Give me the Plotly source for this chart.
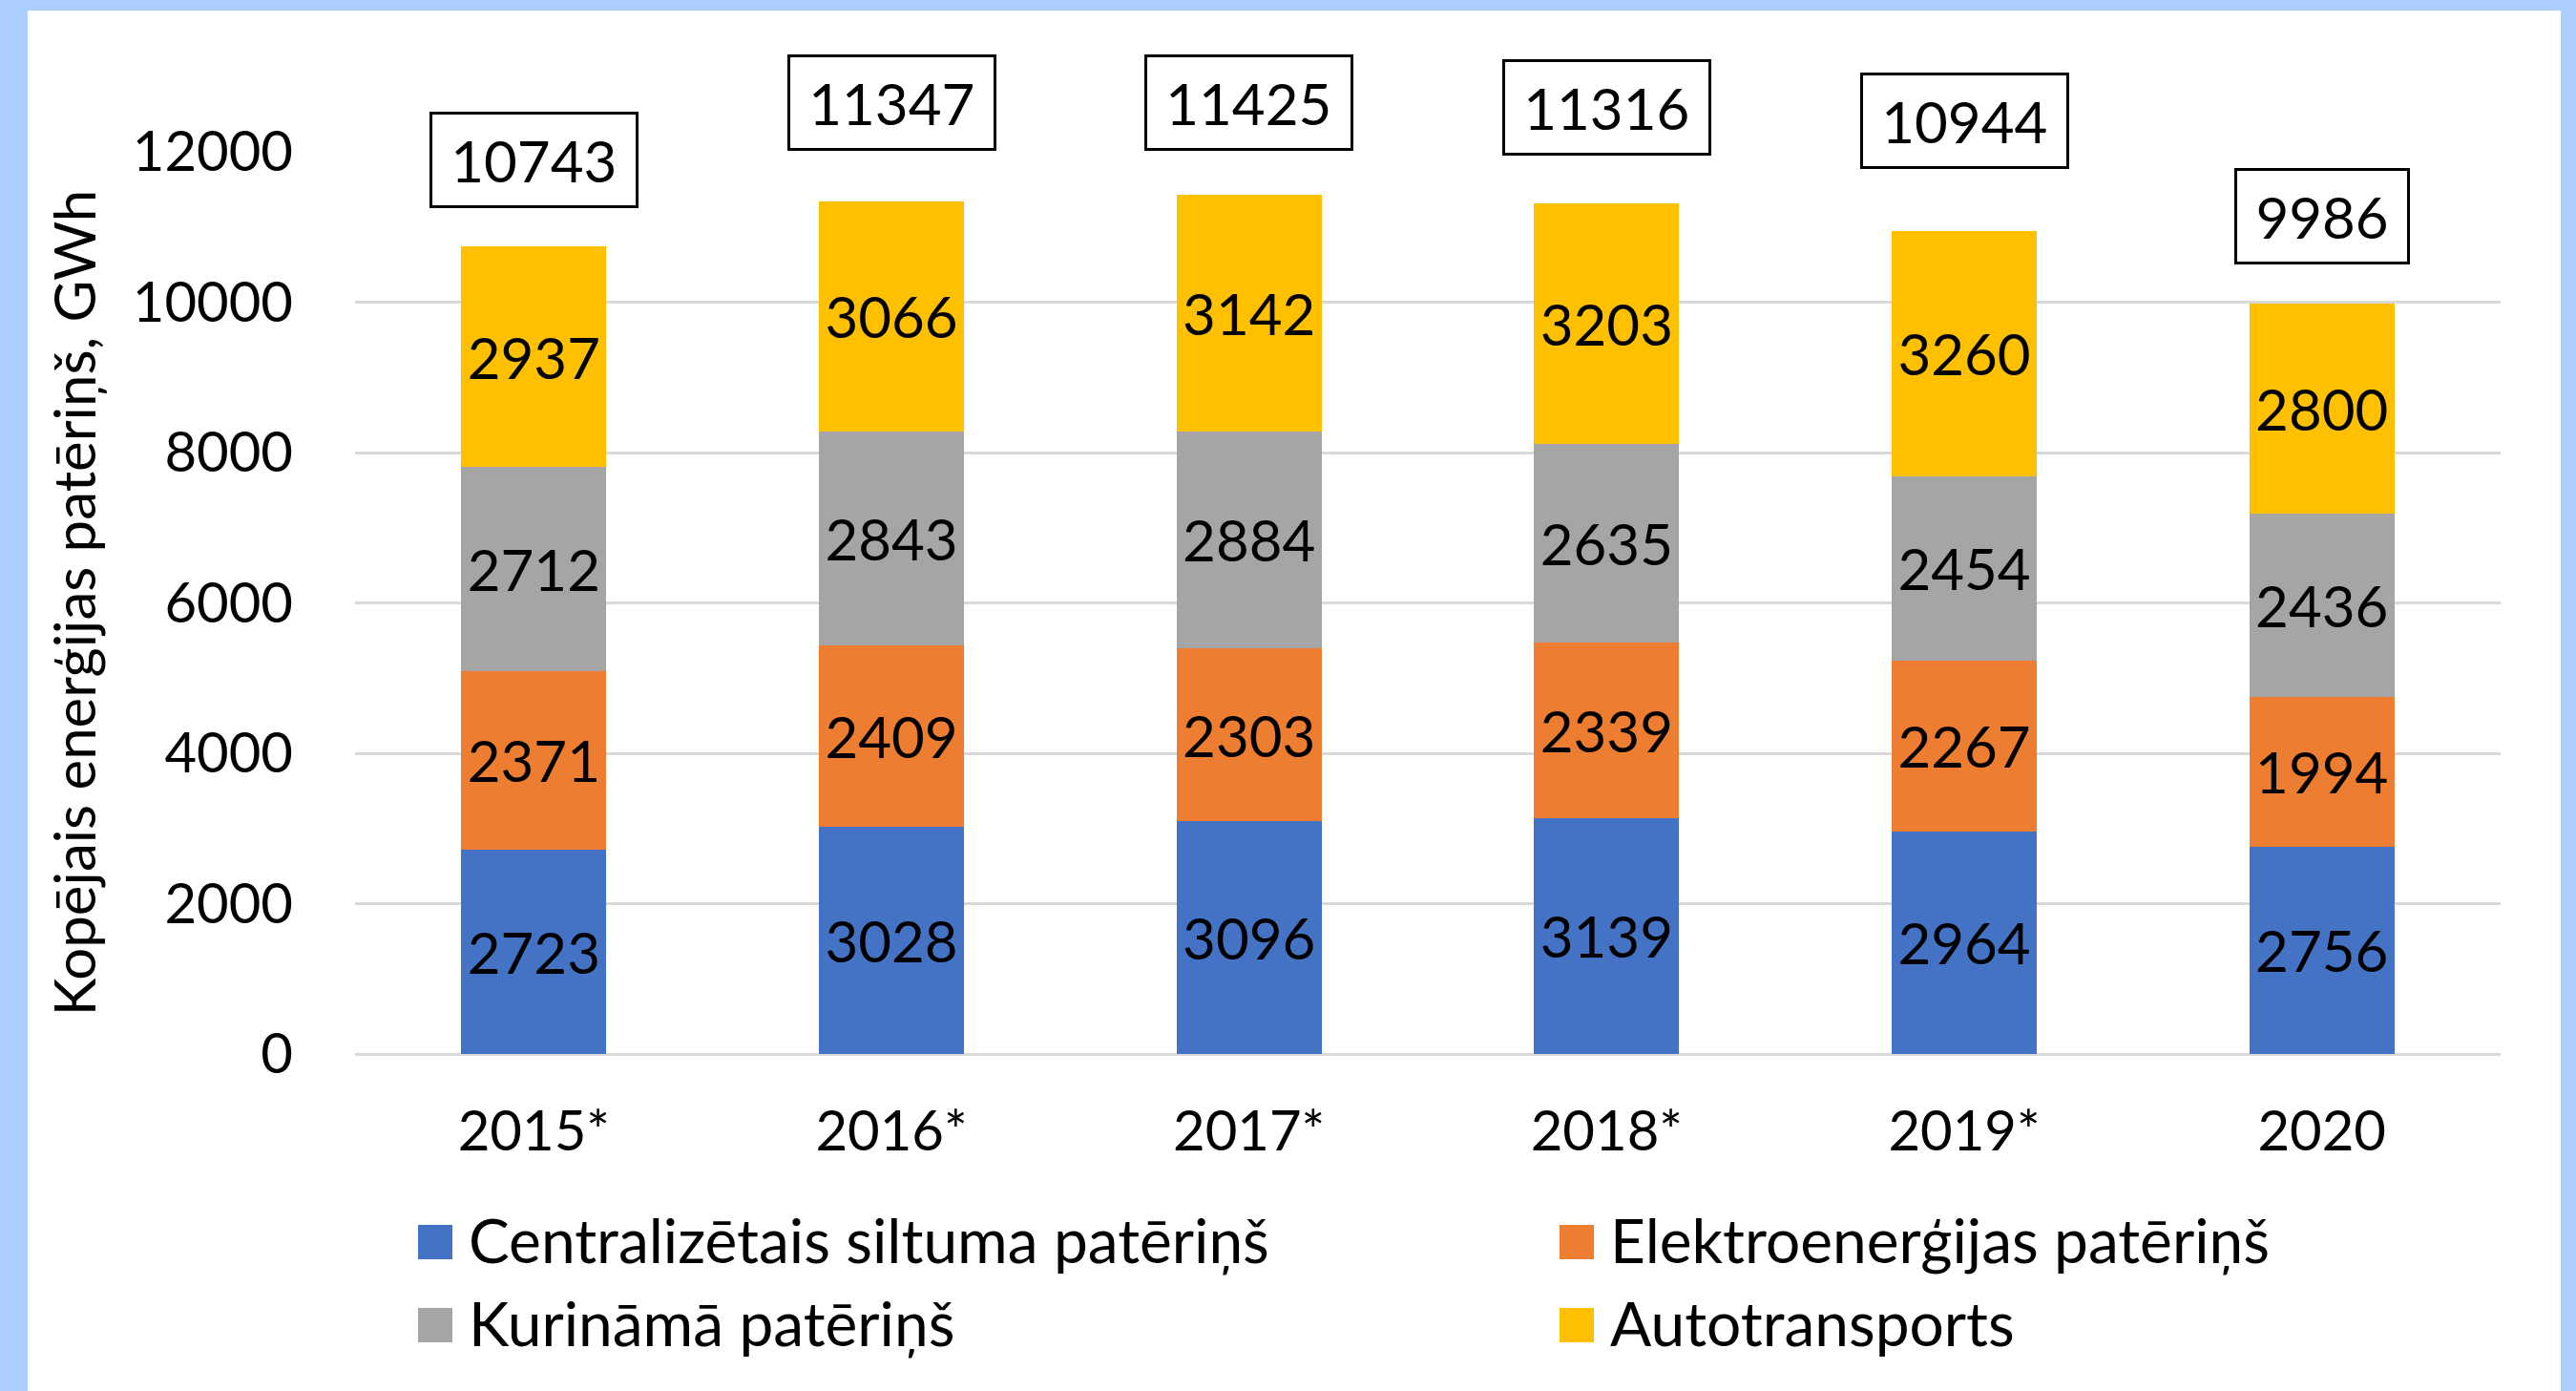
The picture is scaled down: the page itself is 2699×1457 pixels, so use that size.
import plotly.graph_objects as go

# ---------------- data ----------------
years = ["2015*", "2016*", "2017*", "2018*", "2019*", "2020"]
central_heat = [2723, 3028, 3096, 3139, 2964, 2756]
electricity = [2371, 2409, 2303, 2339, 2267, 1994]
fuel = [2712, 2843, 2884, 2635, 2454, 2436]
road_transport = [2937, 3066, 3142, 3203, 3260, 2800]
totals = [10743, 11347, 11425, 11316, 10944, 9986]
series_names = ["Centralizētais siltuma patēriņš", "Elektroenerģijas patēriņš",
                "Kurināmā patēriņš", "Autotransports"]
y_ticks = [0, 2000, 4000, 6000, 8000, 10000, 12000]
y_title = "Kopējais enerģijas patēriņš, GWh"

# ---------------- styling / layout ----------------
colors = ["#4472C4", "#ED7D31", "#A5A5A5", "#FFC000"]
FONT = "Lato, 'Open Sans', sans-serif"
FS = 58
LBL = 60
W, H = 2699, 1457
PL, PR, PT, PB = 372, 2620, 159, 1104   # plot area in pixels
total_label_shift = [90, 103, 97, 100, 116, 91]  # px above bar top


def px_x(px):
    return (px - PL) / (PR - PL)


def px_y(py):
    return (PB - py) / (PB - PT)


series_values = [central_heat, electricity, fuel, road_transport]

fig = go.Figure()
for name, vals, col in zip(series_names, series_values, colors):
    fig.add_trace(go.Bar(
        x=years, y=vals, name=name, marker=dict(color=col, line=dict(width=0)),
        text=vals, texttemplate="%{text}", textposition="inside",
        insidetextanchor="middle", textangle=0, constraintext="none",
        textfont=dict(family=FONT, size=LBL, color="#000000"),
        showlegend=False,
    ))

annotations = []
for i, (tot, sh) in enumerate(zip(totals, total_label_shift)):
    label = str(tot)
    annotations.append(dict(
        x=i, y=tot, xref="x", yref="y", yshift=sh, yanchor="middle",
        text=label, showarrow=False,
        font=dict(family=FONT, size=LBL, color="#000000"),
        bordercolor="#000000", borderwidth=3, borderpad=14,
        height=67, width=34.5 * len(label) + 12,
    ))

# custom legend (large square swatches)
shapes = [dict(type="rect", xref="paper", yref="paper",
               x0=px_x(29), x1=px_x(2683), y0=px_y(1500), y1=px_y(11),
               fillcolor="#FFFFFF", line=dict(width=0), layer="below")]
legend_pos = [(438, 1301), (1634, 1301), (438, 1388), (1634, 1388)]
SW = 36
for name, col, (lx, ly) in zip(series_names, colors, legend_pos):
    shapes.append(dict(type="rect", xref="paper", yref="paper",
                       x0=px_x(lx), x1=px_x(lx + SW),
                       y0=px_y(ly + SW / 2), y1=px_y(ly - SW / 2),
                       fillcolor=col, line=dict(width=0)))
    annotations.append(dict(x=px_x(lx + SW + 15), y=px_y(ly - 3), xref="paper", yref="paper",
                            xanchor="left", yanchor="middle", text=name, showarrow=False,
                            font=dict(family=FONT, size=64, color="#000000")))

fig.update_layout(
    barmode="stack", bargap=0.595,
    width=W, height=H,
    margin=dict(l=PL, r=W - PR, t=PT, b=H - PB, autoexpand=False),
    paper_bgcolor="#AACEFF", plot_bgcolor="rgba(0,0,0,0)",
    font=dict(family=FONT, size=FS, color="#000000"),
    shapes=shapes, annotations=annotations,
    xaxis=dict(type="category", range=[-0.5, len(years) - 0.5], showgrid=False,
               showline=False, zeroline=False, ticks="",
               tickfont=dict(family=FONT, size=FS, color="#000000"),
               ticklabelstandoff=42),
    yaxis=dict(range=[0, 12000], tickvals=y_ticks, tickformat="d", showgrid=True,
               gridcolor="#D9D9D9", gridwidth=2.5, zeroline=True,
               zerolinecolor="#D9D9D9", zerolinewidth=2.5, showline=False,
               ticks="", ticklabelstandoff=64,
               tickfont=dict(family=FONT, size=FS, color="#000000"),
               title=dict(text=y_title, standoff=18,
                          font=dict(family=FONT, size=60, color="#000000"))),
)

fig.write_html(
    "out.html",
    config={"displayModeBar": False},
    post_script="document.body.style.margin='0';document.body.style.overflow='hidden';",
)
